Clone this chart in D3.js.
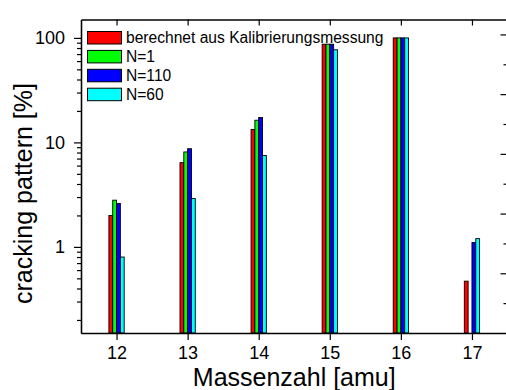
<!DOCTYPE html>
<html>
<head>
<meta charset="utf-8">
<script src="https://cdn.jsdelivr.net/npm/d3@7"></script>
<style>
  html, body { margin: 0; padding: 0; background: #fff; }
  svg { display: block; font-family: "Liberation Sans", Arial, sans-serif; }
</style>
</head>
<body>
<svg id="chart" width="506" height="390"></svg>
<script>
// Mass numbers on the x axis
const masses = [12, 13, 14, 15, 16, 17];

// Series names (legend order) and their fill colours
const seriesNames = ["berechnet aus Kalibrierungsmessung", "N=1", "N=110", "N=60"];
const seriesColors = ["#ff0000", "#00ff00", "#0000ff", "#00ffff"];

// Cracking pattern values [%] per mass number (null = no bar)
const calibValues = [2.0, 6.4, 13.3, 87, 100, 0.47];
const n1Values    = [2.8, 8.1, 16.3, 87, 100, null];
const n110Values  = [2.6, 8.7, 17.3, 87, 100, 1.1];
const n60Values   = [0.8, 2.9, 7.5, 77, 100, 1.2];

// Labelled y ticks
const yTickLabels = [1, 10, 100];

const seriesValues = [calibValues, n1Values, n110Values, n60Values];

const svg = d3.select("#chart");
const m = { left: 81, right: 507.5, top: 19.5, bottom: 333 };

const x = d3.scaleLinear().domain([11.5, 17.5]).range([m.left, m.right]);
const y = d3.scaleLog().domain([0.15, 150]).range([m.bottom, m.top]);
// secondary (right-hand) frame axis
const yRight = d3.scaleLinear().domain([0, 5.25]).range([m.bottom, m.top]);

// position of each series inside a mass group
const groupWidth = 0.215;
const inner = d3.scaleBand().domain(d3.range(seriesNames.length))
  .range([-groupWidth / 2, groupWidth / 2]).padding(0);

// bars
const rows = [];
seriesValues.forEach((vals, s) => {
  vals.forEach((v, i) => { if (v != null) rows.push({ s, mass: masses[i], v }); });
});
svg.append("g").selectAll("rect").data(rows).join("rect")
  .attr("x", d => x(d.mass + inner(d.s)))
  .attr("width", d => x(d.mass + inner(d.s) + inner.bandwidth()) - x(d.mass + inner(d.s)))
  .attr("y", d => y(d.v))
  .attr("height", d => y.range()[0] - y(d.v))
  .attr("fill", d => seriesColors[d.s])
  .attr("stroke", "#000")
  .attr("stroke-width", 0.9);

// minor log ticks
const minorTicks = [];
[0.1, 1, 10].forEach(dec => {
  for (let k = 2; k <= 9; k++) {
    const t = dec * k;
    if (t >= 0.15 && t <= 150) minorTicks.push(t);
  }
});

const axisStyle = g => {
  g.selectAll(".domain").attr("stroke", "#000").attr("stroke-width", 1.3);
  g.selectAll(".tick line").attr("stroke", "#000").attr("stroke-width", 1.2);
  g.selectAll(".tick text").attr("fill", "#000");
};

// left axis: major ticks with labels, minor ticks without
svg.append("g").attr("transform", `translate(${m.left},0)`)
  .call(d3.axisLeft(y).tickValues(minorTicks).tickSize(4).tickSizeOuter(0).tickFormat(""))
  .call(axisStyle);
svg.append("g").attr("transform", `translate(${m.left},0)`)
  .call(d3.axisLeft(y).tickValues(yTickLabels).tickSize(7).tickSizeOuter(0).tickPadding(9)
    .tickFormat(d3.format("d")))
  .call(axisStyle)
  .call(g => g.selectAll(".tick text").attr("font-size", 18));

// bottom axis
svg.append("g").attr("transform", `translate(0,${m.bottom})`)
  .call(d3.axisBottom(x).tickValues(masses).tickSize(7).tickSizeOuter(0).tickPadding(6)
    .tickFormat(d3.format("d")))
  .call(axisStyle)
  .call(g => g.selectAll(".tick text").attr("font-size", 18));

// top axis: inward ticks, no labels
svg.append("g").attr("transform", `translate(0,${m.top})`)
  .call(d3.axisBottom(x).tickValues(masses).tickSize(6).tickSizeOuter(0).tickFormat(""))
  .call(axisStyle);

// right axis: inward ticks
svg.append("g").attr("transform", `translate(${m.right},0)`)
  .call(d3.axisLeft(yRight).tickValues(d3.range(1, 6)).tickSize(7).tickSizeOuter(0).tickFormat(""))
  .call(axisStyle);
svg.append("g").attr("transform", `translate(${m.right},0)`)
  .call(d3.axisLeft(yRight).tickValues(d3.range(0.5, 5.25, 1)).tickSize(4).tickSizeOuter(0).tickFormat(""))
  .call(axisStyle);

// axis titles
svg.append("text")
  .attr("x", (m.left + m.right) / 2).attr("y", 386)
  .attr("text-anchor", "middle").attr("font-size", 25).attr("fill", "#000")
  .text("Massenzahl [amu]");
svg.append("text")
  .attr("transform", `translate(32,${(82 + 305) / 2}) rotate(-90)`)
  .attr("text-anchor", "middle").attr("font-size", 25).attr("fill", "#000")
  .text("cracking pattern [%]");

// legend
const legend = svg.append("g").attr("transform", "translate(87.5,31.5)");
seriesNames.forEach((name, i) => {
  const row = legend.append("g").attr("transform", `translate(0,${i * 18.9})`);
  row.append("rect").attr("width", 34).attr("height", 12.5)
    .attr("fill", seriesColors[i]).attr("stroke", "#000").attr("stroke-width", 1);
  row.append("text").attr("x", 38.5).attr("y", 11.5)
    .attr("font-size", 15.6).attr("fill", "#000").text(name);
});
</script>
</body>
</html>
